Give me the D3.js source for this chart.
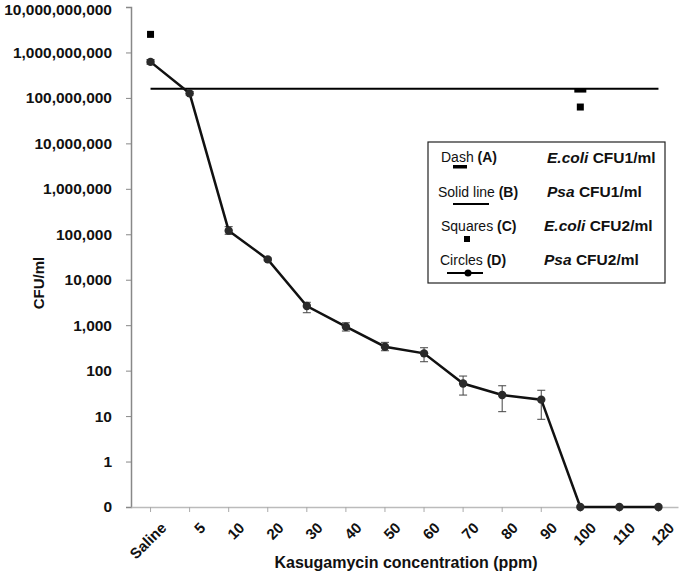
<!DOCTYPE html>
<html><head><meta charset="utf-8">
<script src="https://cdn.jsdelivr.net/npm/d3@7/dist/d3.min.js"></script>
<style>body{margin:0;background:#fff}svg{display:block}text{font-family:"Liberation Sans",Arial,sans-serif}</style>
</head><body><svg id="c" width="680" height="576"></svg>
<script>
const categories = ["Saline","5","10","20","30","40","50","60","70","80","90","100","110","120"];
// Circles (D): Psa CFU2/ml, mean with error bar low/high
const psaCFU2 = [6.2e8, 1.26e8, 1.2e5, 2.8e4, 2640, 925, 336, 240, 52, 29, 23, 0, 0, 0];
const psaCFU2Low = [5.5e8, 1.15e8, 1.0e5, 2.6e4, 1880, 743, 274, 157, 29, 12.5, 8.5, 0, 0, 0];
const psaCFU2High = [7.0e8, 1.38e8, 1.47e5, 3.0e4, 3190, 1130, 419, 319, 76, 46.5, 37, 0, 0, 0];
// Squares (C): E.coli CFU2/ml
const ecoliCFU2 = [{cat:"Saline", v:2.5e9}, {cat:"100", v:6.3e7}];
// Dash (A): E.coli CFU1/ml
const ecoliCFU1 = [{cat:"100", v:1.45e8}];
// Solid line (B): Psa CFU1/ml
const psaCFU1 = 1.6e8;
const yTicks = [0.1,1,10,100,1e3,1e4,1e5,1e6,1e7,1e8,1e9,1e10];

const svg = d3.select("#c");
const x = d3.scaleBand().domain(categories).range([131, 678]);
const cx = c => x(c) + x.bandwidth()/2;
const yl = d3.scaleLog().domain([0.1, 1e10]).range([507, 7]);
const y = v => v <= 0 ? yl(0.1) : yl(v);

// Y axis
const yAxis = d3.axisLeft(yl).tickValues(yTicks).tickSize(5).tickPadding(14)
  .tickFormat(v => v < 1 ? "0" : d3.format(",")(Math.round(v)));
const ga = svg.append("g").attr("transform","translate(131,0)").call(yAxis);
ga.select(".domain").attr("stroke","#888").attr("stroke-width",1.5);
ga.selectAll(".tick line").attr("stroke","#888");
ga.selectAll("text").attr("font-size",15.5).attr("font-weight","bold").attr("fill","#111")
  .attr("font-family","'Liberation Sans',Arial,sans-serif");
ga.selectAll(".tick").filter(d => d === 1e10).select("text").attr("dy","0.5em");

// X axis
const xAxis = d3.axisBottom(x).tickSize(5).tickSizeOuter(0).tickPadding(6);
const gx = svg.append("g").attr("transform","translate(0,507)").call(xAxis);
gx.select(".domain").attr("stroke","#bbb").attr("stroke-width",1.5);
gx.selectAll(".tick line").attr("stroke","#aaa");
gx.selectAll("text").attr("font-size",15).attr("font-weight","bold").attr("fill","#111")
  .attr("font-family","'Liberation Sans',Arial,sans-serif")
  .attr("text-anchor","end").attr("dy",0)
  .attr("transform","translate(9,14) rotate(-45)");

// axis titles
svg.append("text").attr("x",406).attr("y",568).attr("text-anchor","middle")
  .attr("font-size",16).attr("font-weight","bold").attr("fill","#111").text("Kasugamycin concentration (ppm)");
svg.append("text").attr("transform","translate(44,283) rotate(-90)").attr("text-anchor","middle")
  .attr("font-size",15).attr("font-weight","bold").attr("fill","#111").text("CFU/ml");

// Solid line B
svg.append("line").attr("x1",cx(categories[0])).attr("x2",cx(categories[categories.length-1]))
  .attr("y1",y(psaCFU1)).attr("y2",y(psaCFU1)).attr("stroke","#000").attr("stroke-width",2);

// Dash A
svg.selectAll(".dash").data(ecoliCFU1).join("rect")
  .attr("x",d=>cx(d.cat)-6).attr("y",d=>y(d.v)-2).attr("width",12).attr("height",4).attr("fill","#000");

// Squares C
svg.selectAll(".sq").data(ecoliCFU2).join("rect")
  .attr("x",d=>cx(d.cat)-3.5).attr("y",d=>y(d.v)-3.5).attr("width",7).attr("height",7).attr("fill","#000");

// Error bars
const eb = svg.append("g").attr("stroke","#444").attr("stroke-width",1);
categories.forEach((c,i)=>{
  if (psaCFU2[i] <= 0) return;
  const X = cx(c), y1 = y(psaCFU2Low[i]), y2 = y(psaCFU2High[i]);
  eb.append("line").attr("x1",X).attr("x2",X).attr("y1",y1).attr("y2",y2);
  eb.append("line").attr("x1",X-4).attr("x2",X+4).attr("y1",y1).attr("y2",y1);
  eb.append("line").attr("x1",X-4).attr("x2",X+4).attr("y1",y2).attr("y2",y2);
});

// Line D
const line = d3.line().x((d,i)=>cx(categories[i])).y(d=>y(d));
svg.append("path").datum(psaCFU2).attr("d",line).attr("fill","none").attr("stroke","#111").attr("stroke-width",2.5);
svg.selectAll(".pt").data(psaCFU2).join("circle")
  .attr("cx",(d,i)=>cx(categories[i])).attr("cy",d=>y(d)).attr("r",4.2).attr("fill","#2a2a2a");

// Legend
const lg = svg.append("g");
lg.append("rect").attr("x",428).attr("y",142).attr("width",237).attr("height",141)
  .attr("fill","#fff").attr("stroke","#222").attr("stroke-width",1.2);
const rowsL = [["Dash ","(A)",162],["Solid line ","(B)",197],["Squares ","(C)",231],["Circles ","(D)",265]];
const rowsR = [["E.coli"," CFU1/ml",163],["Psa"," CFU1/ml",197],["E.coli"," CFU2/ml",231],["Psa"," CFU2/ml",265]];
const lx = [441,438,441,440];
rowsL.forEach((r,i)=>{
  const t = lg.append("text").attr("x",lx[i]).attr("y",r[2]).attr("font-size",14).attr("fill","#111");
  t.append("tspan").text(r[0]);
  t.append("tspan").attr("font-weight","bold").text(r[1]);
});
const rx = [547,547,544,544];
rowsR.forEach((r,i)=>{
  const t = lg.append("text").attr("x",rx[i]).attr("y",r[2]).attr("font-size",15.5).attr("font-weight","bold").attr("fill","#111");
  t.append("tspan").attr("font-style","italic").text(r[0]);
  t.append("tspan").text(r[1]);
});
lg.append("rect").attr("x",453).attr("y",165).attr("width",14).attr("height",3.5).attr("fill","#000");
lg.append("line").attr("x1",453).attr("x2",489).attr("y1",204).attr("y2",204).attr("stroke","#000").attr("stroke-width",2);
lg.append("rect").attr("x",464).attr("y",236).attr("width",6).attr("height",6).attr("fill","#000");
lg.append("line").attr("x1",447).attr("x2",483).attr("y1",273).attr("y2",273).attr("stroke","#000").attr("stroke-width",2);
lg.append("circle").attr("cx",468).attr("cy",273).attr("r",3.5).attr("fill","#000");
</script></body></html>
